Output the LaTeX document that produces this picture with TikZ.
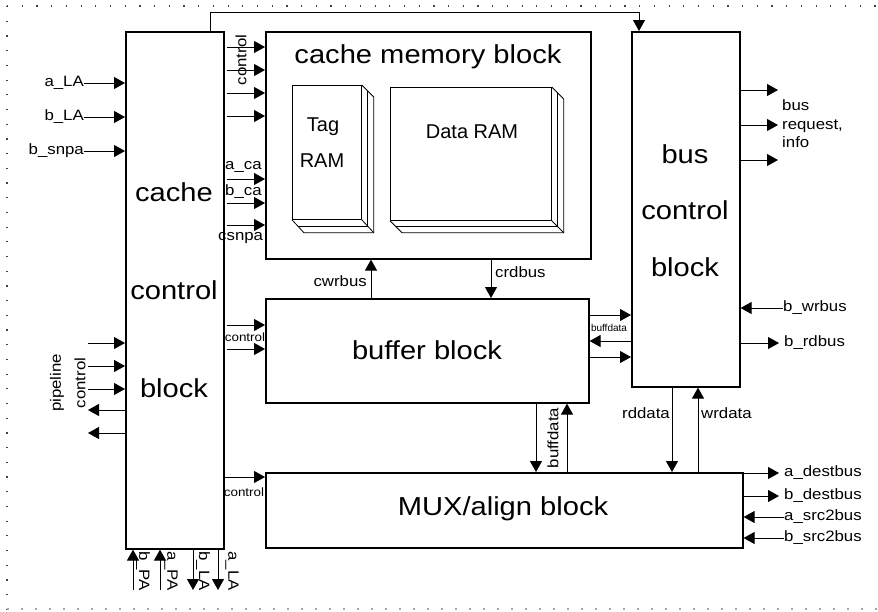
\documentclass[tikz,border=0pt]{standalone}
\usepackage{fontspec}
\setmainfont{Liberation Sans}
\newfontfamily\wide[FakeStretch=1.12]{Liberation Sans}
\usetikzlibrary{arrows.meta,calc}
\begin{document}
\begin{tikzpicture}[x=1pt,y=-1pt,
 blk/.style={draw, line width=1.6pt, inner sep=0, anchor=north west},
 arr/.style={line width=1pt, -{Triangle[length=11pt,width=12pt]}},
 big/.style={font=\wide\fontsize{26}{30}\selectfont, inner sep=0},
 mid/.style={font=\fontsize{20}{24}\selectfont, inner sep=0},
 lab/.style={font=\wide\fontsize{15}{17}\selectfont, inner sep=0},
 tiny/.style={font=\wide\fontsize{12}{13}\selectfont, inner sep=0},
 thinl/.style={line width=0.8pt}]
\useasboundingbox (0,0) rectangle (878,611);
% frame
\draw[black!75, line width=1.1pt, dash pattern=on 1.2pt off 13.5pt] (7,6) -- (878,6);
\draw[black!75, line width=1.1pt, dash pattern=on 1.2pt off 13.5pt] (7,6) -- (7,609);
\draw[black!35, line width=1.1pt, dash pattern=on 2pt off 12pt] (7,609) -- (878,609);

% labels between cache control and cache memory
\node[lab, anchor=west] (aca) at (225,167) {a\_ca};
\node[lab, anchor=west] (bca) at (225,192) {b\_ca};
\node[lab, anchor=west] (csn) at (218,238) {csnpa};

% blocks
\node[blk, minimum width=98pt, minimum height=517pt] (ccb) at (125,31) {};
\node[blk, minimum width=325pt, minimum height=227pt] (cmb) at (265,31) {};
\node[blk, minimum width=108pt, minimum height=355pt] (bcb) at (631,31) {};
\node[blk, minimum width=323pt, minimum height=104pt] (buf) at (265,298) {};
\node[blk, minimum width=477pt, minimum height=75pt] (mux) at (265,472) {};

\node[big] (t1) at (174,192) {cache};
\node[big] (t2) at (174,290) {control};
\node[big] (t3) at (174,388) {block};
\node[big] (t4) at (428,57) {cache memory block};
\node[big] (t5) at (685,154) {bus};
\node[big] (t6) at (685,210) {control};
\node[big] (t7) at (685,267) {block};
\node[big] (t8) at (427,350) {buffer block};
\node[big] (t9) at (503,509) {MUX/align block};

% Tag RAM
\node[draw, thinl, minimum width=69pt, minimum height=134pt, anchor=north west] (tag) at (292,85) {};
\draw[thinl] (tag.north east) -- ($(tag.north east)+(12,12)$) -- ($(tag.south east)+(12,13)$) -- ($(tag.south west)+(12,13)$) -- (tag.south west);
\draw[thinl] (tag.south east) -- ($(tag.south east)+(12,13)$);
\draw[thinl] ($(tag.north east)+(6,6)$) -- ($(tag.south east)+(6,6.5)$) -- ($(tag.south west)+(6,6.5)$);
\node[mid] (tagt) at (323,127) {Tag};
\node[mid] (tagr) at (322,161) {RAM};
% Data RAM
\node[draw, thinl, minimum width=161pt, minimum height=133pt, anchor=north west] (dat) at (390,87) {};
\draw[thinl] (dat.north east) -- ($(dat.north east)+(12,12)$) -- ($(dat.south east)+(12,12)$) -- ($(dat.south west)+(12,12)$) -- (dat.south west);
\draw[thinl] (dat.south east) -- ($(dat.south east)+(12,12)$);
\draw[thinl] ($(dat.north east)+(6,6)$) -- ($(dat.south east)+(6,6)$) -- ($(dat.south west)+(6,6)$);
\node[mid] (datt) at (472,132) {Data RAM};

% top connector
\coordinate (tp1) at (210,12);
\coordinate (tp2) at (639,12);
\draw[arr, line width=0.8pt] (tp1 |- ccb.north) -- (tp1) -- (tp2) -- (tp2 |- bcb.north);

% left inputs
\node[lab, anchor=east] (aLA) at (84,83) {a\_LA};
\node[lab, anchor=east] (bLA) at (84,117) {b\_LA};
\node[lab, anchor=east] (bsn) at (84,151) {b\_snpa};
\draw[arr] (aLA.east) -- (aLA.east -| ccb.west);
\draw[arr] (bLA.east) -- (bLA.east -| ccb.west);
\draw[arr] (bsn.east) -- (bsn.east -| ccb.west);

% pipeline control
\foreach \y [count=\i] in {343,366,389} {
  \coordinate (pi\i) at (88,\y);
  \draw[arr] (pi\i) -- (pi\i -| ccb.west);
}
\foreach \y [count=\i] in {410,433} {
  \coordinate (po\i) at (88,\y);
  \draw[arr] (po\i -| ccb.west) -- (po\i);
}
\node[lab, rotate=90] (pl1) at (57,383) {pipeline};
\node[lab, rotate=90] (pl2) at (80,383) {control};

% bottom
\coordinate (bb1) at (133,590);
\coordinate (bb2) at (160,590);
\coordinate (bb3) at (193,590);
\coordinate (bb4) at (218,590);
\draw[arr] (bb1) -- (bb1 |- ccb.south);
\draw[arr] (bb2) -- (bb2 |- ccb.south);
\draw[arr] (bb3 |- ccb.south) -- (bb3);
\draw[arr] (bb4 |- ccb.south) -- (bb4);
\node[lab, rotate=-90] (lb1) at (143,571) {b\_PA};
\node[lab, rotate=-90] (lb2) at (171,571) {a\_PA};
\node[lab, rotate=-90] (lb3) at (203,571) {b\_LA};
\node[lab, rotate=-90] (lb4) at (232,571) {a\_LA};

% cache control -> cache memory
\foreach \y [count=\i] in {47,70,93,116,179,203,225} {
  \coordinate (cc\i) at (227,\y);
  \draw[arr] (cc\i) -- (cc\i -| cmb.west);
}
\node[lab, rotate=90] (ctl1) at (241,60) {control};

% cache control -> buffer / mux
\foreach \y [count=\i] in {325,349} {
  \coordinate (cb\i) at (227,\y);
  \draw[arr] (cb\i) -- (cb\i -| buf.west);
}
\node[tiny] (ctl2) at (245,337) {control};
\coordinate (cm1) at (225,477);
\draw[arr] (cm1) -- (cm1 -| mux.west);
\node[tiny] (ctl3) at (244,492) {control};

% cwrbus / crdbus
\coordinate (cw) at (371,0);
\coordinate (cr) at (491,0);
\draw[arr] (cw |- buf.north) -- (cw |- cmb.south);
\draw[arr] (cr |- cmb.south) -- (cr |- buf.north);
\node[lab, anchor=east] (cwl) at (367,281) {cwrbus};
\node[lab, anchor=west] (crl) at (495,272) {crdbus};

% buffer <-> bus
\coordinate (bd1) at (0,315);
\coordinate (bd2) at (0,341);
\coordinate (bd3) at (0,357);
\draw[arr] (buf.east |- bd1) -- (bcb.west |- bd1);
\draw[arr] (bcb.west |- bd2) -- (buf.east |- bd2);
\draw[arr] (buf.east |- bd3) -- (bcb.west |- bd3);
\node[inner sep=0, font=\fontsize{10}{11}\selectfont] (bdl) at (609,328) {buffdata};

% bus <-> mux
\coordinate (rd) at (672,0);
\coordinate (wd) at (698,0);
\draw[arr] (rd |- bcb.south) -- (rd |- mux.north);
\draw[arr] (wd |- mux.north) -- (wd |- bcb.south);
\node[lab, anchor=east] (rdl) at (670,413) {rddata};
\node[lab, anchor=west] (wdl) at (701,413) {wrdata};

% buffer <-> mux
\coordinate (bm1) at (536,0);
\coordinate (bm2) at (567,0);
\draw[arr] (bm1 |- buf.south) -- (bm1 |- mux.north);
\draw[arr] (bm2 |- mux.north) -- (bm2 |- buf.south);
\node[lab, rotate=90] (bml) at (553,438) {buffdata};

% bus control right side
\foreach \y [count=\i] in {90,125,160} {
  \coordinate (br\i) at (778,\y);
  \draw[arr] (br\i -| bcb.east) -- (br\i);
}
\node[lab, anchor=west, align=left, font=\wide\fontsize{15}{18.5}\selectfont] (brq) at (782,124) {bus\\request,\\info};
\node[lab, anchor=west] (bw) at (783,308) {b\_wrbus};
\node[lab, anchor=west] (brd) at (784,343) {b\_rdbus};
\draw[arr] (bw.west) -- (bw.west -| bcb.east);
\draw[arr, shorten >=5pt] (brd.west -| bcb.east) -- (brd.west);

% mux right side
\node[lab, anchor=west] (ad) at (784,473) {a\_destbus};
\node[lab, anchor=west] (bdb) at (784,496) {b\_destbus};
\node[lab, anchor=west] (as) at (784,517) {a\_src2bus};
\node[lab, anchor=west] (bs) at (784,538) {b\_src2bus};
\draw[arr, shorten >=5pt] (ad.west -| mux.east) -- (ad.west);
\draw[arr, shorten >=5pt] (bdb.west -| mux.east) -- (bdb.west);
\draw[arr] (as.west) -- (as.west -| mux.east);
\draw[arr] (bs.west) -- (bs.west -| mux.east);
\end{tikzpicture}
\end{document}
